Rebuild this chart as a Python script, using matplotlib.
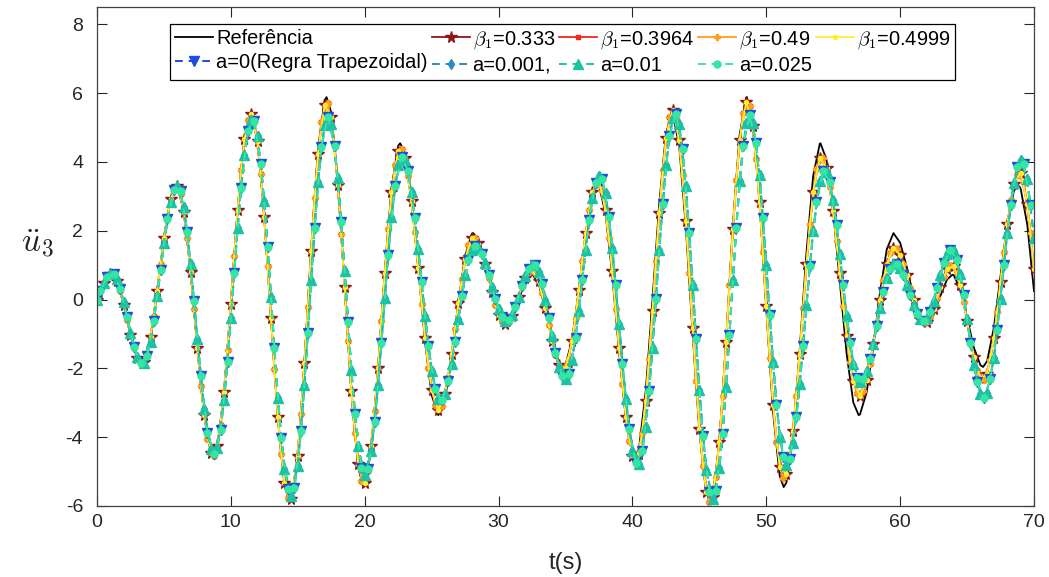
import numpy as np
import matplotlib
matplotlib.use("Agg")
import matplotlib.pyplot as plt
from matplotlib.lines import Line2D

plt.rcParams['font.family'] = ['Liberation Sans', 'DejaVu Sans']
plt.rcParams['mathtext.fontset'] = 'cm'

# ---------------- data ----------------
t_ref = [0, 0.5, 1.0, 1.1, 1.5, 2.0, 2.5, 3.0, 3.35, 3.5, 4.0, 4.5, 5.0, 5.5, 5.95, 6.0,
         6.5, 7.0, 7.5, 8.0, 8.5, 8.7, 9.0, 9.5, 10.0, 10.5, 11.0, 11.5, 12.0, 12.5, 13.0,
         13.5, 14.0, 14.4, 14.5, 15.0, 15.5, 16.0, 16.5, 17.0, 17.15, 17.5, 18.0, 18.5,
         19.0, 19.5, 19.9, 20.0, 20.5, 21.0, 21.5, 22.0, 22.5, 22.65, 23.0, 23.5, 24.0,
         24.5, 25.0, 25.5, 26.0, 26.5, 27.0, 27.5, 28.0, 28.1, 28.5, 29.0, 29.5, 30.0,
         30.5, 31.0, 31.5, 32.0, 32.5, 33.0, 33.5, 34.0, 34.5, 34.85, 35.0, 35.5, 36.0,
         36.5, 37.0, 37.4, 37.5, 38.0, 38.5, 39.0, 39.5, 40.0, 40.2, 40.5, 41.0, 41.5,
         42.0, 42.5, 42.95, 43.0, 43.5, 44.0, 44.5, 45.0, 45.5, 45.8, 46.0, 46.5, 47.0,
         47.5, 48.0, 48.5, 48.55, 49.0, 49.5, 50.0, 50.5, 51.0, 51.3, 51.5, 52.0, 52.5,
         53.0, 53.5, 54.0, 54.05, 54.5, 55.0, 55.5, 56.0, 56.5, 56.9, 57.0, 57.5, 58.0,
         58.5, 59.0, 59.5, 60.0, 60.5, 61.0, 61.5, 61.9, 62.0, 62.5, 63.0, 63.5, 63.9,
         64.0, 64.5, 65.0, 65.5, 66.0, 66.2, 66.5, 67.0, 67.5, 68.0, 68.5, 68.8, 69.0,
         69.5, 70.0]
ref = [0, 0.49, 0.74, 0.75, 0.55, -0.15, -1.04, -1.70, -1.85, -1.81, -1.10, 0.26, 1.78, 2.93, 3.30, 3.29,
       2.55, 0.80, -1.40, -3.36, -4.45, -4.55, -4.27, -2.68, -0.13, 2.59, 4.65, 5.41, 4.60, 2.40, -0.55,
       -3.42, -5.39, -5.90, -5.86, -4.57, -1.83, 1.49, 4.33, 5.79, 5.88, 5.43, 3.41, 0.38,
       -2.71, -4.86, -5.45, -5.42, -4.32, -2.00, 0.81, 3.23, 4.47, 4.54, 4.25, 2.93, 0.92,
       -1.19, -2.78, -3.36, -2.89, -1.65, -0.08, 1.26, 1.91, 1.93, 1.75, 1.11, 0.25, -0.46,
       -0.74, -0.52, 0.0, 0.53, 0.75, 0.46, -0.29, -1.17, -1.81, -1.96, -1.91, -1.15, 0.29,
       1.88, 3.03, 3.35, 3.32, 2.48, 0.69, -1.51, -3.44, -4.50, -4.60, -4.31, -2.64, -0.01,
       2.77, 4.80, 5.45, 5.44, 4.44, 2.05, -1.00, -3.83, -5.59, -5.90, -5.75, -4.11, -1.18,
       2.13, 4.76, 5.87, 5.88, 5.15, 2.86, -0.27, -3.24, -5.12, -5.45, -5.32, -3.94, -1.45,
       1.36, 3.59, 4.53, 4.54, 4.06, 2.57, 0.48, -1.57, -2.99, -3.36, -3.34, -2.69, -1.35,
       0.22, 1.46, 1.93, 1.65, 0.94, 0.08, -0.56, -0.74, -0.73, -0.44, 0.10, 0.58, 0.72,
       0.71, 0.29, -0.53, -1.39, -1.91, -1.96, -1.79, -0.82, 0.69, 2.19, 3.16, 3.33, 3.23,
       2.17, 0.24]

# sampling instants of the numerical solutions
t_grid1 = np.arange(0, 70.01, 0.5)                              # 0, 0.5, 1.0, ...
t_grid2 = np.concatenate([[0.0], np.arange(0.25, 70, 0.5)])     # 0, 0.25, 0.75, ...

# beta_1 family on grid 1
beta_g1 = [0, 0.49, 0.74, 0.55, -0.15, -1.04, -1.70, -1.81, -1.10, 0.26, 1.78, 2.93, 3.29, 2.55,
           0.80, -1.40, -3.36, -4.45, -4.27, -2.68, -0.13, 2.59, 4.65, 5.40, 4.60, 2.40, -0.55,
           -3.42, -5.33, -5.81, -4.54, -1.84, 1.42, 4.23, 5.66, 5.31, 3.33, 0.36, -2.67, -4.78,
           -5.32, -4.25, -1.98, 0.76, 3.12, 4.33, 4.12, 2.85, 0.91, -1.11, -2.64, -3.20, -2.76,
           -1.59, -0.10, 1.17, 1.78, 1.63, 1.03, 0.23, -0.44, -0.70, -0.47, 0.08, 0.62, 0.85,
           0.54, -0.26, -1.21, -1.89, -2.00, -1.21, 0.28, 1.93, 3.12, 3.43, 2.59, 0.83, -1.40,
           -3.40, -4.55, -4.49, -2.96, -0.32, 2.52, 4.69, 5.50, 4.63, 2.27, -0.84, -3.75, -5.59,
           -5.75, -4.14, -1.23, 2.04, 4.64, 5.74, 5.04, 2.83, -0.19, -3.06, -4.88, -5.08, -3.83,
           -1.57, 1.02, 3.13, 4.12, 3.82, 2.57, 0.77, -1.06, -2.38, -2.80, -2.34, -1.30, 0.00,
           1.04, 1.50, 1.30, 0.70, -0.02, -0.56, -0.66, -0.28, 0.36, 0.88, 0.97, 0.41, -0.62,
           -1.66, -2.29, -2.17, -1.13, 0.50, 2.19, 3.37, 3.67, 2.78, 0.90]
# beta_1 family on grid 2
beta_g2 = [0, 0.26, 0.66, 0.72, 0.25, -0.60, -1.42, -1.84, -1.56, -0.47, 1.03,
           2.43, 3.23, 3.07, 1.78, -0.29, -2.51, -4.04, -4.54, -3.64, -1.48,
           1.27, 3.77, 5.21, 5.20, 3.65, 0.97, -2.01, -4.50, -5.78, -5.39,
           -3.33, -0.22, 2.95, 5.15, 5.72, 4.50, 1.91, -1.21, -3.89, -5.27,
           -4.97, -3.23, -0.62, 2.05, 3.90, 4.38, 3.60, 1.96, -0.12, -1.98,
           -3.06, -3.09, -2.24, -0.85, 0.59, 1.58, 1.78, 1.38, 0.63, -0.15,
           -0.63, -0.64, -0.22, 0.37, 0.79, 0.77, 0.18, -0.75, -1.61, -2.04,
           -1.72, -0.54, 1.12, 2.61, 3.40, 3.15, 1.79, -0.29, -2.46, -4.10,
           -4.70, -3.89, -1.72, 1.12, 3.76, 5.29, 5.28, 3.61, 0.76, -2.38,
           -4.83, -5.89, -5.15, -2.80, 0.43, 3.48, 5.41, 5.61, 4.09, 1.37,
           -1.71, -4.15, -5.19, -4.62, -2.79, -0.26, 2.20, 3.79, 4.10, 3.28,
           1.71, -0.18, -1.81, -2.72, -2.66, -1.88, -0.65, 0.58, 1.36, 1.46,
           1.04, 0.33, -0.33, -0.67, -0.52, 0.03, 0.65, 0.99, 0.77, -0.06,
           -1.18, -2.06, -2.34, -1.75, -0.36, 1.37, 2.88, 3.65, 3.38, 1.94]

# a family on grid 1
alpha_g1 = [0, 0.47, 0.73, 0.60, -0.08, -0.96, -1.68, -1.85, -1.22, 0.10,
            1.63, 2.84, 3.30, 2.68, 1.02, -1.15, -3.17, -4.34, -4.31, -2.93,
            -0.55, 2.08, 4.21, 5.22, 4.74, 2.85, 0.07, -2.85, -4.92, -5.70,
            -4.83, -2.48, 0.58, 3.42, 5.07, 5.09, 3.53, 0.84, -2.06, -4.27,
            -5.10, -4.39, -2.48, 0.04, 2.41, 3.90, 4.06, 3.13, 1.47, -0.47,
            -2.08, -2.90, -2.75, -1.86, -0.56, 0.70, 1.45, 1.49, 1.05, 0.36,
            -0.29, -0.61, -0.46, 0.07, 0.68, 1.01, 0.80, 0.00, -1.07, -1.96,
            -2.30, -1.76, -0.34, 1.45, 2.95, 3.59, 3.09, 1.50, -0.72, -2.89,
            -4.40, -4.77, -3.69, -1.40, 1.44, 3.91, 5.27, 5.09, 3.29, 0.43,
            -2.63, -4.94, -5.80, -4.91, -2.54, 0.57, 3.45, 5.12, 5.14, 3.62,
            1.00, -1.83, -3.99, -4.80, -4.17, -2.46, -0.17, 2.00, 3.43, 3.70,
            2.88, 1.31, -0.48, -1.87, -2.40, -2.09, -1.29, -0.26, 0.62, 1.04,
            0.91, 0.42, -0.17, -0.57, -0.55, -0.03, 0.72, 1.31, 1.41, 0.73,
            -0.56, -1.90, -2.74, -2.72, -1.71, 0.02, 1.92, 3.40, 4.04, 3.50,
            1.79]
# a family on grid 2
alpha_g2 = [0, 0.25, 0.64, 0.74, 0.32, -0.51, -1.37, -1.84, -1.64, -0.62, 0.87, 2.33, 3.18, 3.14,
            1.97, -0.05, -2.22, -3.88, -4.50, -3.78, -1.83, 0.78, 3.25, 4.89, 5.18, 3.95, 1.53,
            -1.41, -4.03, -5.50, -5.47, -3.82, -0.98, 2.08, 4.43, 5.30, 4.47, 2.26, -0.64, -3.33,
            -4.89, -4.92, -3.57, -1.26, 1.30, 3.29, 4.14, 3.72, 2.38, 0.50, -1.34, -2.61, -2.93,
            -2.38, -1.24, 0.10, 1.15, 1.55, 1.32, 0.72, 0.01, -0.50, -0.60, -0.23, 0.39, 0.90,
            0.99, 0.46, -0.53, -1.56, -2.21, -2.16, -1.12, 0.56, 2.30, 3.40, 3.50, 2.39, 0.43,
            -1.86, -3.77, -4.74, -4.41, -2.67, 0.01, 2.78, 4.76, 5.39, 4.37, 1.94, -1.15, -3.96,
            -5.58, -5.57, -3.90, -1.02, 2.09, 4.46, 5.35, 4.54, 2.38, -0.45, -3.07, -4.59, -4.64,
            -3.42, -1.34, 0.97, 2.84, 3.72, 3.41, 2.16, 0.41, -1.25, -2.27, -2.32, -1.74, -0.78,
            0.22, 0.90, 1.03, 0.70, 0.12, -0.41, -0.62, -0.35, 0.34, 1.06, 1.44, 1.16, 0.12,
            -1.26, -2.40, -2.85, -2.32, -0.90, 0.99, 2.75, 3.86, 3.94, 2.76]

beta_labels = [r'$\beta_1$=0.333', r'$\beta_1$=0.3964', r'$\beta_1$=0.49', r'$\beta_1$=0.4999']
a_labels = ['a=0(Regra Trapezoidal)', 'a=0.001,', 'a=0.01', 'a=0.025']
yticks = [-6, -4, -2, 0, 2, 4, 6, 8]
xticks = [0, 10, 20, 30, 40, 50, 60, 70]

beta_series = [(t_grid1, beta_g1), (t_grid2, beta_g2), (t_grid2, beta_g2), (t_grid1, beta_g1)]
a_series = [(t_grid2, alpha_g2), (t_grid1, alpha_g1), (t_grid1, alpha_g1), (t_grid2, alpha_g2)]

# ---------------- styles ----------------
beta_colors = ['#8E1616', '#F5261C', '#FF9E1A', '#FFEE2E']
beta_markers = ['*', 's', 'P', '.']
beta_msizes = [8.5, 3.5, 5, 6]
a_colors = ['#1C4FDC', '#2C8CC4', '#1DC2A4', '#34E6A2']
a_markers = ['v', 'd', '^', 'o']
a_msizes = [7.5, 5.5, 7.5, 5]

fig = plt.figure(figsize=(10.49, 5.77), dpi=100)
ax = fig.add_axes([97/1049, 1-506/577, 937/1049, 499/577])

h_ref, = ax.plot(t_ref, ref, color='black', lw=1.3, label='Referência')

h_beta = []
for (tt, vv), lab, c, m, ms in zip(beta_series, beta_labels, beta_colors, beta_markers, beta_msizes):
    h, = ax.plot(tt, vv, color=c, lw=1.3, ls='-', marker=m, ms=ms,
                 mfc=c, mec=c, label=lab)
    h_beta.append(h)

h_a = []
for (tt, vv), lab, c, m, ms in zip(a_series, a_labels, a_colors, a_markers, a_msizes):
    h, = ax.plot(tt, vv, color=c, lw=1.4, ls=(0, (4, 3)), marker=m, ms=ms,
                 mfc=c, mec=c, label=lab)
    h_a.append(h)

ax.set_xlim(0, 70)
ax.set_ylim(-6, 8.5)
ax.set_xticks(xticks)
ax.set_yticks(yticks)
ax.set_xticklabels([str(v) for v in xticks])
ax.set_yticklabels([str(v) for v in yticks])
ax.tick_params(direction='in', top=True, right=True, length=7, width=0.8,
               labelsize=14, colors='#262626')
ax.tick_params(axis='x', pad=6)
ax.tick_params(axis='y', pad=10)
for s in ax.spines.values():
    s.set_color('#404040')
    s.set_linewidth(0.9)

ax.set_xlabel('t(s)', fontsize=17, color='#262626', va='center')
ax.xaxis.set_label_coords(0.5, -0.114)
ax.set_ylabel(r'$\ddot{u}_3$', fontsize=24, rotation=0, color='#262626',
              ha='center', va='center')
ax.yaxis.set_label_coords(-0.063, 0.525)

blank = Line2D([], [], color='none')
handles = [h_ref, h_a[0], h_beta[0], h_a[1], h_beta[1], h_a[2], h_beta[2], h_a[3], h_beta[3], blank]
labels = ['Referência', a_labels[0], beta_labels[0], a_labels[1], beta_labels[1],
          a_labels[2], beta_labels[2], a_labels[3], beta_labels[3], '']
leg = ax.legend(handles, labels, ncol=5, loc='upper left', bbox_to_anchor=(0.078, 0.966),
                borderaxespad=0, fontsize=14.4, frameon=True, fancybox=False,
                edgecolor='black', framealpha=1, handlelength=1.9, handletextpad=0.15,
                columnspacing=0.2, labelspacing=0.25, borderpad=0.25)
leg.get_frame().set_linewidth(0.9)

fig.savefig('out.png', dpi=100)
